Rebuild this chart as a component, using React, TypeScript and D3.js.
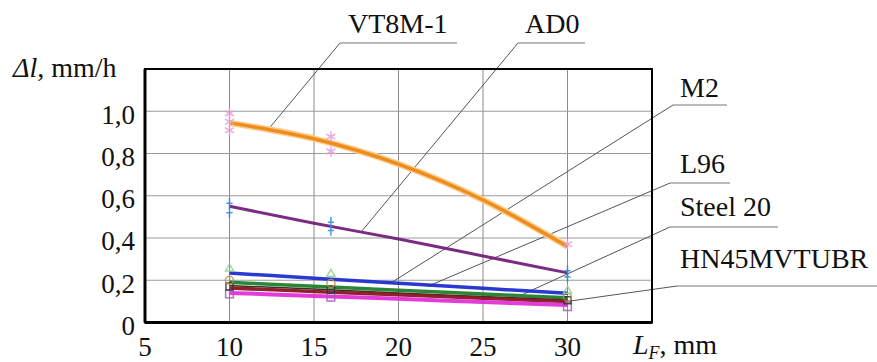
import { useMemo } from 'react';
import * as d3 from 'd3';

// fitted curves, read at L_F = 10..30 mm
const lengths = [10, 15, 20, 25, 30];
const vt8mFit = [0.945, 0.87, 0.75, 0.58, 0.36];
const ad0Fit = [0.55, 0.47, 0.395, 0.315, 0.235];
const m2Fit = [0.234, 0.21, 0.186, 0.162, 0.138];
const l96Fit = [0.19, 0.172, 0.153, 0.135, 0.117];
const darkFit = [0.175, 0.158, 0.14, 0.123, 0.106];
const steel20Fit = [0.163, 0.147, 0.131, 0.115, 0.099];
const hnFit = [0.14, 0.126, 0.112, 0.097, 0.083];

// measured points
const vt8mPtsX = [10, 10, 10, 16, 16, 30];
const vt8mPtsY = [0.99, 0.95, 0.91, 0.88, 0.81, 0.37];
const ad0PtsX = [10, 10, 16, 16, 30, 30];
const ad0PtsY = [0.565, 0.52, 0.475, 0.435, 0.245, 0.215];
const triPtsX = [10, 16, 30];
const triPtsY = [0.255, 0.23, 0.15];
const circPtsX = [10, 16, 30];
const circPtsY = [0.2, 0.185, 0.12];
const sqPtsX = [10, 16, 30];
const sqPtsY = [0.17, 0.155, 0.105];
const hnPtsX = [10, 16, 30];
const hnPtsY = [0.135, 0.12, 0.075];

const xTicks = [5, 10, 15, 20, 25, 30];
const yTicks = [0, 0.2, 0.4, 0.6, 0.8, 1.0];

const calloutLabels = ['VT8M-1', 'AD0', 'M2', 'L96', 'Steel 20', 'HN45MVTUBR'];
const calloutTargetX = [12.3, 17.8, 19.6, 21.7, 27.4, 30];
const calloutTargetY = [0.915, 0.43, 0.19, 0.17, 0.135, 0.1];

const width = 877;
const height = 362;
const margin = { top: 69, right: 225, bottom: 39.5, left: 145 };
const serif = "'Liberation Serif', Tinos, 'Times New Roman', 'DejaVu Serif', serif";

// text position, underline span (pixels)
const calloutLayout = [
  { tx: 348, ty: 33, x0: 340, x1: 457, uy: 43 },
  { tx: 525, ty: 33, x0: 518, x1: 585, uy: 43 },
  { tx: 680, ty: 97, x0: 673, x1: 727, uy: 105 },
  { tx: 680, ty: 173, x0: 670, x1: 730, uy: 183 },
  { tx: 680, ty: 216, x0: 670, x1: 778, uy: 227 },
  { tx: 680, ty: 268, x0: 677, x1: 877, uy: 286 },
];

// stroke symbols (own, so they don't depend on the d3-shape version)
type Ctx = { moveTo: (x: number, y: number) => void; lineTo: (x: number, y: number) => void; closePath: () => void; arc: (x: number, y: number, r: number, a0: number, a1: number) => void };
const symSquare = {
  draw(c: Ctx, size: number) {
    const r = Math.sqrt(size) / 2;
    c.moveTo(-r, -r); c.lineTo(r, -r); c.lineTo(r, r); c.lineTo(-r, r); c.closePath();
  },
};
const symCircle = {
  draw(c: Ctx, size: number) {
    const r = Math.sqrt(size / Math.PI);
    c.moveTo(r, 0); c.arc(0, 0, r, 0, 2 * Math.PI);
  },
};
const symTriangle = {
  draw(c: Ctx, size: number) {
    const r = Math.sqrt(size) * 0.6;
    c.moveTo(0, -r); c.lineTo(r * 0.87, r * 0.5); c.lineTo(-r * 0.87, r * 0.5); c.closePath();
  },
};
const symPlus = {
  draw(c: Ctx, size: number) {
    const r = Math.sqrt(size) / 2;
    c.moveTo(-r * 0.6, 0); c.lineTo(r * 0.6, 0); c.moveTo(0, -r); c.lineTo(0, r);
  },
};
const symAsterisk = {
  draw(c: Ctx, size: number) {
    const r = Math.sqrt(size) / 2;
    const s = r * 0.87, h = r * 0.5;
    c.moveTo(0, -r); c.lineTo(0, r);
    c.moveTo(-s, -h); c.lineTo(s, h);
    c.moveTo(-s, h); c.lineTo(s, -h);
  },
};

export default function App() {
  const innerW = width - margin.left - margin.right;
  const innerH = height - margin.top - margin.bottom;

  const x = useMemo(() => d3.scaleLinear().domain([5, 35]).range([margin.left, margin.left + innerW]), [innerW]);
  const y = useMemo(() => d3.scaleLinear().domain([0, 1.2]).range([margin.top + innerH, margin.top]), [innerH]);

  const line = d3
    .line<[number, number]>()
    .x((d) => x(d[0]))
    .y((d) => y(d[1]))
    .curve(d3.curveMonotoneX);

  const pairs = (vals: number[]) => lengths.map((l, i) => [l, vals[i]] as [number, number]);

  const lines = [
    { vals: m2Fit, color: '#1f2fcf', w: 3.5 },
    { vals: l96Fit, color: '#1f7f2c', w: 3.5 },
    { vals: darkFit, color: '#2a2a1a', w: 1.5 },
    { vals: steel20Fit, color: '#8a1420', w: 3.5 },
    { vals: hnFit, color: '#e232d6', w: 4 },
    { vals: ad0Fit, color: '#74207a', w: 3 },
  ];

  const markerSets = [
    { xs: hnPtsX, ys: hnPtsY, type: symSquare, color: '#a25cb8', size: 60 },
    { xs: sqPtsX, ys: sqPtsY, type: symSquare, color: '#333', size: 50 },
    { xs: circPtsX, ys: circPtsY, type: symCircle, color: '#c09050', size: 50 },
    { xs: triPtsX, ys: triPtsY, type: symTriangle, color: '#8fd08f', size: 60 },
    { xs: ad0PtsX, ys: ad0PtsY, type: symPlus, color: '#2a88d8', size: 110 },
    { xs: vt8mPtsX, ys: vt8mPtsY, type: symAsterisk, color: '#e0a0d8', size: 110 },
  ];

  const fmt = (v: number) => (v === 0 ? '0' : d3.format('.1f')(v).replace('.', ','));

  return (
    <svg
      width={width}
      height={height}
      style={{ position: 'absolute', left: 0, top: 0, background: '#fff', fontFamily: serif }}
    >
      {/* grid */}
      {xTicks.slice(1).map((t) => (
        <line key={`gx${t}`} x1={x(t)} x2={x(t)} y1={y(1.2)} y2={y(0)} stroke="#8a8a8a" strokeWidth={1} />
      ))}
      {yTicks.slice(1).map((t) => (
        <line key={`gy${t}`} x1={x(5)} x2={x(35)} y1={y(t)} y2={y(t)} stroke="#9a9a9a" strokeWidth={1} />
      ))}

      {/* callout leaders */}
      {calloutLabels.map((lab, i) => {
        const c = calloutLayout[i];
        return (
          <g key={lab}>
            <line x1={c.x0} x2={c.x1} y1={c.uy} y2={c.uy} stroke="#777" strokeWidth={1} />
            <line
              x1={c.x0}
              y1={c.uy}
              x2={x(calloutTargetX[i])}
              y2={y(calloutTargetY[i])}
              stroke="#555"
              strokeWidth={1}
            />
            <text x={c.tx} y={c.ty} fontSize={28} fill="#111" style={{ fontFamily: serif }}>
              {lab}
            </text>
          </g>
        );
      })}

      {/* frame */}
      <rect x={x(5)} y={y(1.2)} width={innerW} height={innerH} fill="none" stroke="#000" strokeWidth={2} />
      <line x1={x(5)} x2={x(5)} y1={y(1.2)} y2={y(0)} stroke="#000" strokeWidth={3} />
      <line x1={x(5)} x2={x(35)} y1={y(0)} y2={y(0)} stroke="#000" strokeWidth={3} />

      {/* fitted lines */}
      {lines.map((l, i) => (
        <path key={i} d={line(pairs(l.vals))!} fill="none" stroke={l.color} strokeWidth={l.w} strokeOpacity={0.95} />
      ))}
      <path d={line(pairs(vt8mFit))!} fill="none" stroke="#f9cf94" strokeWidth={6.5} />
      <path d={line(pairs(vt8mFit))!} fill="none" stroke="#ee8d1c" strokeWidth={3.5} />

      {/* measured points */}
      {markerSets.map((m, i) =>
        m.xs.map((xv, j) => (
          <path
            key={`${i}-${j}`}
            d={d3.symbol().type(m.type as any).size(m.size)()!}
            transform={`translate(${x(xv)},${y(m.ys[j])})`}
            fill="none"
            stroke={m.color}
            strokeWidth={1.5}
            strokeOpacity={0.85}
          />
        )),
      )}

      {/* tick labels */}
      {yTicks.map((t) => (
        <text key={`ty${t}`} x={135} y={y(t) + 3} dy="0.35em" textAnchor="end" fontSize={27} fill="#111" style={{ fontFamily: serif }}>
          {fmt(t)}
        </text>
      ))}
      {xTicks.map((t) => (
        <text key={`tx${t}`} x={x(t)} y={356} textAnchor="middle" fontSize={27} fill="#111" style={{ fontFamily: serif }}>
          {t}
        </text>
      ))}

      {/* axis titles */}
      <text x={13} y={77} fontSize={28} fill="#111" style={{ fontFamily: serif }}>
        <tspan fontStyle="italic">Δl</tspan>
        <tspan>, mm/h</tspan>
      </text>
      <text x={633} y={354} fontSize={28} fill="#111" style={{ fontFamily: serif }}>
        <tspan fontStyle="italic">L</tspan>
        <tspan fontStyle="italic" fontSize={18} dy={5}>
          F
        </tspan>
        <tspan dy={-5}>, mm</tspan>
      </text>
    </svg>
  );
}
